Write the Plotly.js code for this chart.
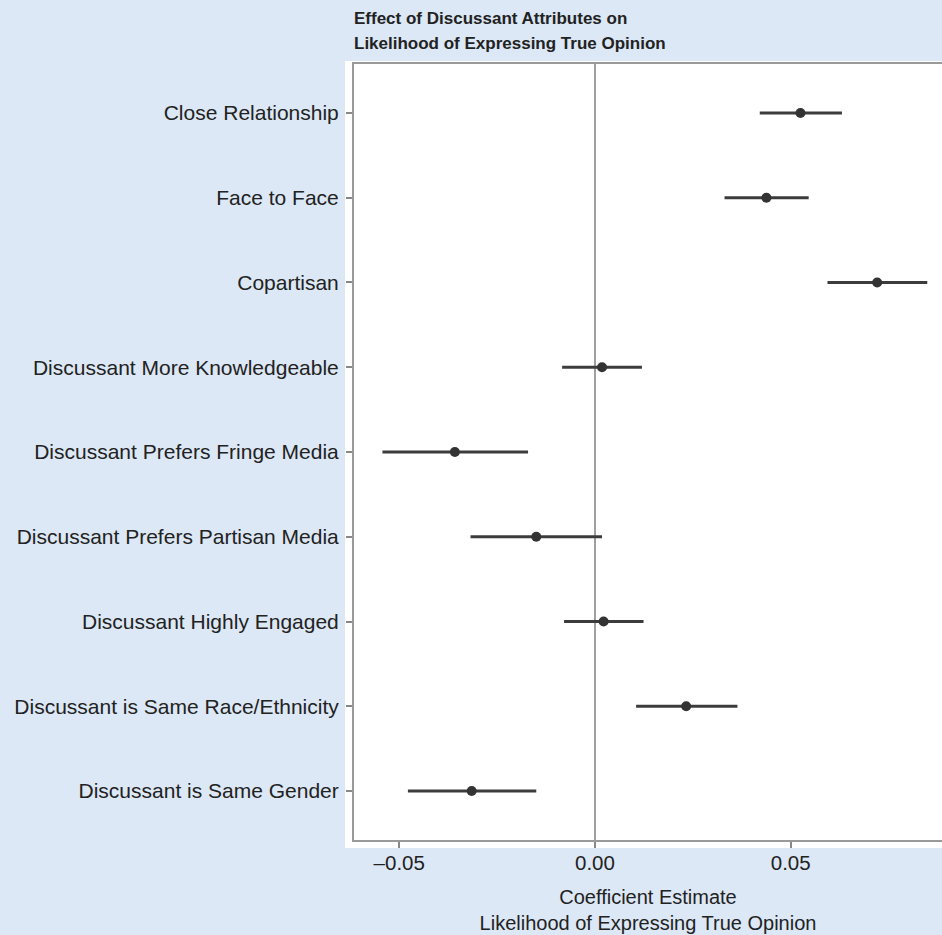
<!DOCTYPE html>
<html>
<head>
<meta charset="utf-8">
<script src="https://cdn.plot.ly/plotly-3.0.1.min.js"></script>
<style>html,body{margin:0;padding:0;background:#dce8f6;}#chart{width:942px;height:935px;}</style>
</head>
<body>
<div id="chart"></div>
<script>
// Categories top to bottom
var categories = [
  "Close Relationship",
  "Face to Face",
  "Copartisan",
  "Discussant More Knowledgeable",
  "Discussant Prefers Fringe Media",
  "Discussant Prefers Partisan Media",
  "Discussant Highly Engaged",
  "Discussant is Same Race/Ethnicity",
  "Discussant is Same Gender"
];
var estimate = [0.0525, 0.0438, 0.0721, 0.0018, -0.0358, -0.0150, 0.0022, 0.0233, -0.0315];
var lower    = [0.0421, 0.0331, 0.0594, -0.0084, -0.0543, -0.0318, -0.0079, 0.0105, -0.0478];
var upper    = [0.0631, 0.0546, 0.0849, 0.0120, -0.0171, 0.0018, 0.0124, 0.0364, -0.0150];
var xTickVals = [-0.05, 0, 0.05];
var xTickText = ["\u20130.05", "0.00", "0.05"];
var titleLines = ["Effect of Discussant Attributes on", "Likelihood of Expressing True Opinion"];

var errPlus = upper.map(function(u, i){ return u - estimate[i]; });
var errMinus = lower.map(function(l, i){ return estimate[i] - l; });

var trace = {
  type: 'scatter',
  mode: 'markers',
  x: estimate,
  y: categories,
  marker: {color: '#333333', size: 10},
  error_x: {type: 'data', symmetric: false, array: errPlus, arrayminus: errMinus,
            color: '#3c3c3c', thickness: 3, width: 0},
  hoverinfo: 'x+y',
  showlegend: false
};

var txt = '#222222';
function py(p){ return 1 + (64 - p) / 776; }
var titleFont = {family: 'Liberation Sans, Arial, Helvetica, sans-serif', size: 17, color: txt, weight: 'bold'};

var layout = {
  width: 942, height: 935,
  paper_bgcolor: '#dce8f6',
  plot_bgcolor: '#ffffff',
  margin: {l: 354, r: 0, t: 64, b: 95, pad: 0},
  font: {family: 'Liberation Sans, Arial, Helvetica, sans-serif', color: txt, size: 20},
  xaxis: {
    range: [-0.06157, 0.08866],
    tickvals: xTickVals,
    ticktext: xTickText,
    tickfont: {size: 20.5, color: txt},
    ticks: 'outside', ticklen: 6, tickwidth: 2, tickcolor: '#888888',
    ticklabelstandoff: -3,
    showgrid: false,
    zeroline: true, zerolinecolor: '#a0a0a0', zerolinewidth: 2,
    showline: true, linecolor: '#9a9a9a', linewidth: 2, mirror: true,
    title: {text: 'Coefficient Estimate<br>Likelihood of Expressing True Opinion',
            font: {size: 20, color: txt}, standoff: 17},
    fixedrange: true
  },
  yaxis: {
    type: 'category',
    categoryorder: 'array',
    categoryarray: categories.slice().reverse(),
    range: [-0.578, 8.578],
    tickfont: {size: 21, color: txt},
    ticks: 'outside', ticklen: 6, tickwidth: 2, tickcolor: '#888888',
    ticklabelstandoff: 3,
    showgrid: false, zeroline: false,
    showline: true, linecolor: '#9a9a9a', linewidth: 2,
    fixedrange: true
  },
  annotations: [
    {text: '<b>' + titleLines[0] + '</b>', xref: 'paper', yref: 'paper', x: 0, y: py(19),
     xanchor: 'left', yanchor: 'middle', xshift: -2, showarrow: false, font: titleFont},
    {text: '<b>' + titleLines[1] + '</b>', xref: 'paper', yref: 'paper', x: 0, y: py(43),
     xanchor: 'left', yanchor: 'middle', xshift: -2, showarrow: false, font: titleFont}
  ],
  shapes: [{
    type: 'rect', xref: 'paper', yref: 'paper', layer: 'below',
    x0: (345-354)/588, x1: 1.01, y0: -8/776, y1: 1 + 3/776,
    fillcolor: '#ffffff', line: {width: 0}
  }]
};

Plotly.newPlot('chart', [trace], layout, {displayModeBar: false, staticPlot: true});
</script>
</body>
</html>
